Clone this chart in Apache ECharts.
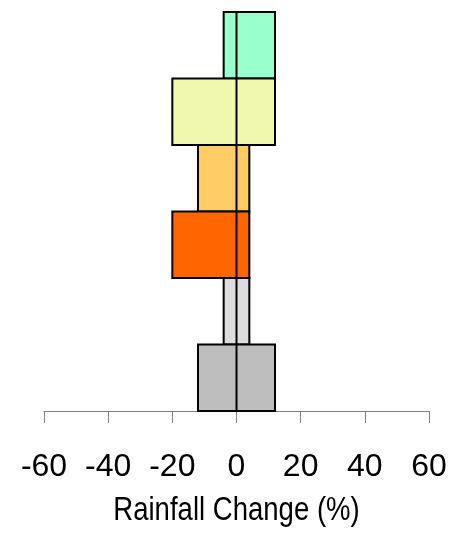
<!DOCTYPE html>
<html>
<head>
<meta charset="utf-8">
<script src="https://cdn.jsdelivr.net/npm/echarts@6/dist/echarts.min.js"></script>
<style>html,body{margin:0;padding:0;background:#fff;}#c{width:458px;height:534px;}</style>
</head>
<body>
<div id="c"></div>
<script>
var categories = ['A', 'B', 'C', 'D', 'E', 'F'];
var lowValues = [-4, -20, -12, -20, -4, -12];
var highValues = [12, 12, 4, 4, 4, 12];
var barColors = ['#99FFCC', '#F0F8B0', '#FFCC66', '#FF6600', '#DDDDDD', '#BEBEBE'];
var tickValues = [-60, -40, -20, 0, 20, 40, 60];
var axisTitle = 'Rainfall Change (%)';

var rangeData = categories.map(function (c, i) { return [lowValues[i], highValues[i], i]; });
var zeroData = categories.map(function (c, i) { return [0, i]; });

var chart = echarts.init(document.getElementById('c'), null, { renderer: 'canvas' });
chart.setOption({
  animation: false,
  grid: { left: 44, right: 29, top: 12, bottom: 123 },
  graphic: [{
    type: 'text',
    x: 236.5, y: 510.5,
    scaleX: 0.81,
    style: {
      text: axisTitle,
      font: '34px "Liberation Sans"',
      fill: '#000',
      align: 'center',
      verticalAlign: 'middle'
    }
  }],
  xAxis: {
    type: 'value', min: -60, max: 60, interval: 20,
    axisLine: { show: true, lineStyle: { color: '#808080', width: 1 } },
    axisTick: { show: true, length: 12, lineStyle: { color: '#808080', width: 1 } },
    axisLabel: { fontFamily: 'Liberation Sans', fontSize: 32, color: '#000', margin: 40,
      formatter: function (v) { return tickValues.indexOf(v) >= 0 ? String(v) : ''; } },
    splitLine: { show: false }
  },
  yAxis: {
    type: 'category', data: categories, inverse: true, show: false,
    axisLine: { show: false }, axisTick: { show: false }, axisLabel: { show: false }
  },
  series: [{
    type: 'custom',
    dimensions: ['lo', 'hi', 'cat'],
    data: rangeData,
    encode: { x: ['lo', 'hi'], y: 'cat' },
    renderItem: function (params, api) {
      var i = api.value(2);
      var p0 = api.coord([api.value(0), i]);
      var p1 = api.coord([api.value(1), i]);
      var h = api.size([0, 1])[1];
      return {
        type: 'rect',
        shape: { x: p0[0], y: p0[1] - h / 2, width: p1[0] - p0[0], height: h },
        style: { fill: barColors[i], stroke: '#000', lineWidth: 2 }
      };
    },
    z: 2
  }, {
    type: 'custom',
    dimensions: ['x', 'cat'],
    data: zeroData,
    encode: { x: 'x', y: 'cat' },
    renderItem: function (params, api) {
      var p = api.coord([api.value(0), api.value(1)]);
      var h = api.size([0, 1])[1];
      return {
        type: 'line',
        shape: { x1: p[0], y1: p[1] - h / 2, x2: p[0], y2: p[1] + h / 2 },
        style: { stroke: '#000', lineWidth: 2 }
      };
    },
    z: 3
  }]
});
</script>
</body>
</html>
